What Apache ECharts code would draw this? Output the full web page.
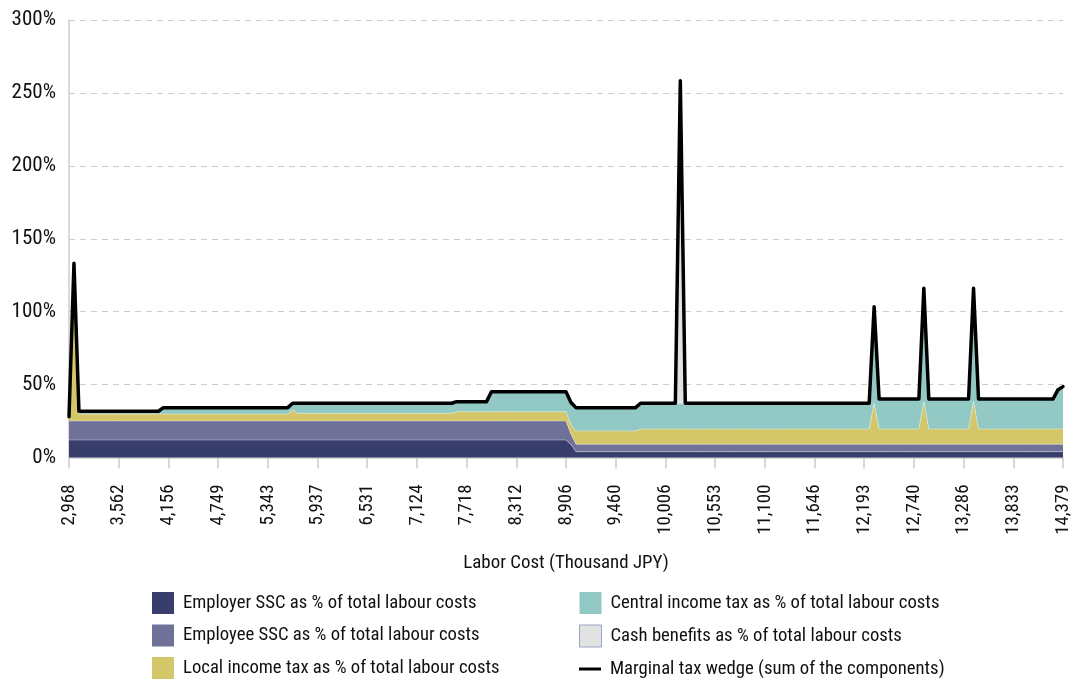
<!DOCTYPE html>
<html>
<head>
  <meta charset="UTF-8">
  <script src="https://cdn.jsdelivr.net/npm/echarts@6/dist/echarts.min.js"></script>
  <style>
    html, body { margin: 0; padding: 0; background: #fff; }
    #chart { width: 1076px; height: 683px; }
  </style>
</head>
<body>
  <div id="chart"></div>
  <script>
    // x axis: 201 steps of labour cost, labelled every 10 steps
    var stepLabels = ['2,968', '3,562', '4,156', '4,749', '5,343', '5,937', '6,531', '7,124', '7,718', '8,312',
      '8,906', '9,460', '10,006', '10,553', '11,100', '11,646', '12,193', '12,740', '13,286', '13,833', '14,379'];
    var stepCount = 201;

    // components in % of total labour costs, as [number of steps, value] runs
    var employerSSC = [[101, 12.0], [1, 9.0], [99, 4.0]];
    var employeeSSC = [[101, 13.0], [1, 7.0], [99, 5.1]];
    var localTax = [[1, 3.0], [1, 108.2], [43, 4.8], [1, 7.6], [32, 5.3], [24, 6.4], [13, 9.1], [47, 10.4],
      [1, 28.1], [9, 10.4], [1, 29.2], [9, 10.4], [1, 29.2], [18, 10.4]];
    var centralTax = [[2, 0], [17, 1.9], [26, 4.4], [1, 4.6], [39, 6.9], [16, 13.7], [1, 15.3], [13, 16.0],
      [47, 17.7], [1, 66.2], [9, 20.6], [1, 77.7], [9, 20.6], [1, 77.7], [16, 20.6], [1, 27.0], [1, 29.1]];
    var cashBenefits = [[123, 0], [1, 221.2], [77, 0]];

    function expand(runs) {
      var out = [];
      runs.forEach(function (r) {
        for (var k = 0; k < r[0]; k++) out.push(r[1]);
      });
      return out;
    }

    var comps = [
      { name: 'Employer SSC as % of total labour costs', color: '#383e6b', data: expand(employerSSC) },
      { name: 'Employee SSC as % of total labour costs', color: '#6f7199', data: expand(employeeSSC) },
      { name: 'Local income tax as % of total labour costs', color: '#d4c76a', data: expand(localTax) },
      { name: 'Central income tax as % of total labour costs', color: '#93c9c4', data: expand(centralTax) },
      { name: 'Cash benefits as % of total labour costs', color: '#e2e2e2', data: expand(cashBenefits) }
    ];
    var wedgeName = 'Marginal tax wedge (sum of the components)';

    // the wedge is the sum of the components
    var wedge = comps[0].data.map(function (v, i) {
      var s = 0;
      comps.forEach(function (c) { s += c.data[i]; });
      return Math.round(s * 10) / 10;
    });

    var steps = [];
    for (var i = 0; i < stepCount; i++) steps.push(String(i));

    // pick a narrow font if one is installed, then size text to the reference widths
    var ctx = document.createElement('canvas').getContext('2d');
    function width(text, size, fam) { ctx.font = size + 'px ' + fam; return ctx.measureText(text).width; }
    var probe = 'Employer SSC as % of total labour costs 0123456789';
    var font = 'Roboto, sans-serif';
    ['Roboto Condensed', 'Liberation Sans Narrow', 'DejaVu Sans Condensed', 'Noto Sans Condensed',
      'Open Sans Condensed', 'Arial Narrow'].some(function (f) {
      var a = width(probe, 50, "'" + f + "', monospace");
      var b = width(probe, 50, 'monospace');
      if (Math.abs(a - b) > 1) { font = "'" + f + "', Roboto, sans-serif"; return true; }
      return false;
    });
    function fit(text, target, maxSize) {
      return Math.min(maxSize, Math.round(100 * target / width(text, 100, font) * 10) / 10);
    }
    var legendSize = fit(comps[0].name, 294, 20);
    var yLabelSize = fit('300%', 46, 21);
    var xLabelSize = fit('2,968', 41, 20);
    var nameSize = fit('Labor Cost (Thousand JPY)', 206, 21);

    var series = comps.map(function (c) {
      return {
        name: c.name,
        type: 'line',
        stack: 'wedge',
        symbol: 'none',
        color: c.color,
        lineStyle: { width: 1, color: 'rgba(255,255,255,0.35)' },
        areaStyle: { color: c.color, opacity: 1 },
        data: c.data
      };
    });
    series.push({
      name: wedgeName,
      type: 'line',
      symbol: 'none',
      color: '#000',
      lineStyle: { width: 3.5, color: '#000', join: 'round', cap: 'round' },
      data: wedge,
      z: 5
    });

    var legendText = { fontSize: legendSize, color: '#111', padding: [0, 0, 0, 4], fontFamily: font };

    var chart = echarts.init(document.getElementById('chart'));
    chart.setOption({
      animation: false,
      textStyle: { fontFamily: font },
      grid: { left: 69, right: 13, top: 20, bottom: 225.5, containLabel: false },
      xAxis: {
        type: 'category',
        data: steps,
        boundaryGap: false,
        name: 'Labor Cost (Thousand JPY)',
        nameLocation: 'middle',
        nameGap: 96,
        nameTextStyle: { fontSize: nameSize, color: '#111', fontFamily: font },
        axisLine: { show: true, lineStyle: { color: '#cccccc', width: 1.5 } },
        axisTick: { show: true, interval: 9, length: 11, lineStyle: { color: '#cccccc', width: 1.5 } },
        splitLine: { show: false },
        axisLabel: {
          interval: 9,
          rotate: 90,
          margin: 27,
          fontSize: xLabelSize,
          color: '#111',
          fontFamily: font,
          formatter: function (v, idx) { return stepLabels[idx / 10]; }
        }
      },
      yAxis: {
        type: 'value',
        min: 0,
        max: 300,
        interval: 50,
        axisLine: { show: true, lineStyle: { color: '#cccccc', width: 1.5 } },
        axisTick: { show: false },
        splitLine: { lineStyle: { color: '#cccccc', type: [6, 5], width: 1 } },
        axisLabel: { formatter: '{value}%', fontSize: yLabelSize, color: '#111', margin: 13, fontFamily: font }
      },
      legend: [
        {
          left: 152, top: 592, padding: 0, orient: 'vertical', itemWidth: 22, itemHeight: 22, itemGap: 10.5,
          textStyle: legendText,
          data: [
            { name: comps[0].name, icon: 'rect' },
            { name: comps[1].name, icon: 'rect' },
            { name: comps[2].name, icon: 'rect' }
          ]
        },
        {
          left: 579, top: 592, padding: 0, orient: 'vertical', itemWidth: 22, itemHeight: 22, itemGap: 10.5,
          textStyle: legendText,
          data: [
            { name: comps[3].name, icon: 'rect' },
            { name: comps[4].name, icon: 'rect', itemStyle: { borderColor: '#9aa6c6', borderWidth: 1 } }
          ]
        },
        {
          left: 579, top: 659.5, padding: 0, itemWidth: 22, itemHeight: 3,
          textStyle: legendText,
          data: [{ name: wedgeName, icon: 'rect' }]
        }
      ],
      series: series
    });
  </script>
</body>
</html>
